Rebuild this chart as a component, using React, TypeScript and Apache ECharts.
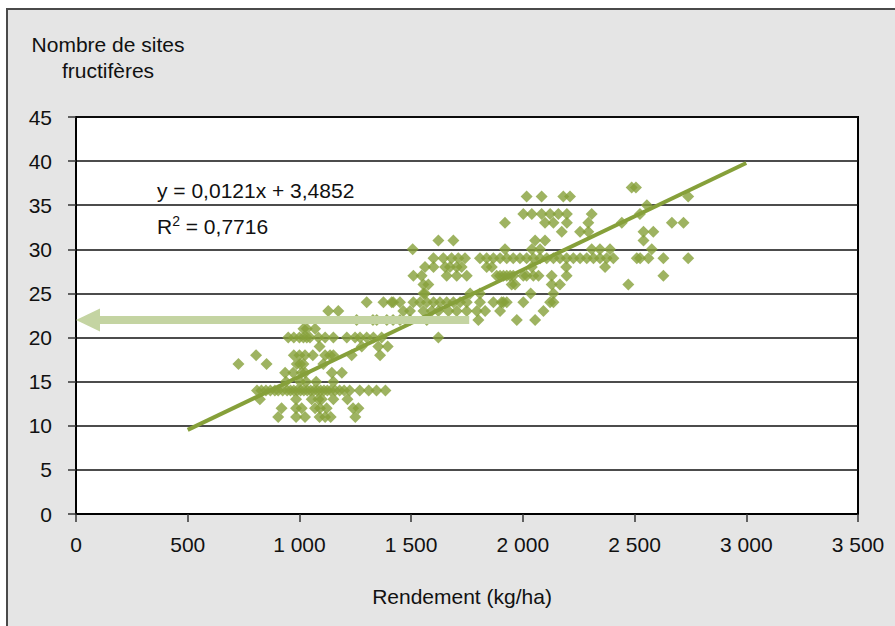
import React, { useEffect, useRef } from "react";
import * as echarts from "echarts";

// Observations grouped by number of fruiting sites (y) -> yields (kg/ha)
const yields11 = [905, 985, 1025, 1090, 1115, 1140, 1250];
const yields12 = [920, 985, 1010, 1070, 1092, 1122, 1240, 1264];
const yields13 = [823, 985, 1055, 1085, 1100, 1152, 1215];
const yields14 = [810, 830, 850, 870, 890, 905, 925, 945, 960, 975, 990, 1005, 1020, 1035, 1050, 1065, 1080, 1095, 1110, 1125, 1140, 1160, 1180, 1200, 1225, 1270, 1310, 1345, 1385];
const yields15 = [940, 1003, 1030, 1075, 1152];
const yields16 = [936, 972, 1010, 1025, 1145, 1190];
const yields17 = [727, 853, 988, 1003, 1018, 1107];
const yields18 = [806, 975, 1000, 1025, 1060, 1115, 1137, 1152, 1234, 1361];
const yields19 = [1090, 1279, 1353, 1395];
const yields20 = [950, 975, 1000, 1018, 1033, 1047, 1085, 1115, 1152, 1212, 1249, 1271, 1301, 1331, 1368, 1622];
const yields21 = [1018, 1033, 1070];
const yields22 = [1256, 1329, 1346, 1391, 1419, 1450, 1495, 1570, 1801, 1973, 2055];
const yields23 = [1129, 1174, 1465, 1495, 1555, 1592, 1622, 1667, 1704, 1749, 1794, 1831, 1898, 2092];
const yields24 = [1301, 1376, 1413, 1420, 1450, 1510, 1540, 1570, 1600, 1629, 1659, 1689, 1719, 1749, 1808, 1868, 1905, 1913, 1928, 2002, 2122, 2137];
const yields25 = [1555, 1562, 1764, 1808, 2035, 2137];
const yields26 = [1555, 1577, 1950, 1965, 2129, 2166, 2472];
const yields27 = [1510, 1547, 1659, 1704, 1749, 1883, 1898, 1913, 1928, 1943, 1957, 2002, 2017, 2047, 2070, 2129, 2196, 2629];
const yields28 = [1562, 1600, 1652, 1674, 1704, 1726, 1838, 1861, 2040, 2194, 2368];
const yields29 = [1600, 1644, 1681, 1711, 1741, 1808, 1838, 1868, 1898, 1928, 1957, 1987, 2017, 2047, 2077, 2107, 2137, 2166, 2196, 2226, 2256, 2286, 2316, 2345, 2375, 2405, 2510, 2525, 2562, 2629, 2740];
const yields30 = [1507, 1920, 2040, 2077, 2308, 2345, 2390, 2577];
const yields31 = [1622, 1689, 2055, 2099, 2540];
const yields32 = [2174, 2256, 2293, 2540, 2584];
const yields33 = [1920, 2099, 2137, 2197, 2293, 2443, 2667, 2719];
const yields34 = [2002, 2040, 2084, 2122, 2159, 2197, 2308, 2524];
const yields35 = [2555];
const yields36 = [2017, 2084, 2181, 2211, 2740];
const yields37 = [2487, 2506];

const siteLevels = [11, 12, 13, 14, 15, 16, 17, 18, 19, 20, 21, 22, 23, 24, 25, 26, 27, 28, 29, 30, 31, 32, 33, 34, 35, 36, 37];
const yieldsByLevel = [yields11, yields12, yields13, yields14, yields15, yields16, yields17, yields18, yields19, yields20, yields21, yields22, yields23, yields24, yields25, yields26, yields27, yields28, yields29, yields30, yields31, yields32, yields33, yields34, yields35, yields36, yields37];

// Linear regression shown on the chart
const trendSlope = 0.0121;
const trendIntercept = 3.4852;
const trendXRange = [500, 3000];

// Highlight arrow: from yield 1760 back to the y axis at 22 sites
const arrowLevel = 22;
const arrowFromX = 1760;
const arrowToX = 0;

const equationLabel = "y = 0,0121x + 3,4852";
const r2Value = "0,7716";
const yTitleLines = ["Nombre de sites", "fructifères"];
const xTitle = "Rendement (kg/ha)";

const FONT = "'Liberation Sans', Arial, Helvetica, sans-serif";
const GREEN = "#86a03a";
const ARROW = "#c4d4a2";

export default function App() {
  const ref = useRef<HTMLDivElement>(null);
  useEffect(() => {
    if (!ref.current) return;
    const chart = echarts.init(ref.current, undefined, { renderer: "svg" });
    const points: number[][] = [];
    siteLevels.forEach((lvl, i) => yieldsByLevel[i].forEach((x) => points.push([x, lvl])));
    const trend = trendXRange.map((x) => [x, trendSlope * x + trendIntercept]);
    const fmt = (v: number) => {
      const s = String(Math.round(v));
      return s.length > 3 ? s.slice(0, s.length - 3) + " " + s.slice(-3) : s;
    };
    chart.setOption({
      animation: false,
      backgroundColor: "transparent",
      textStyle: { fontFamily: FONT },
      grid: {
        left: 76, top: 117, right: 37, bottom: 112,
        show: true, backgroundColor: "#ffffff", borderColor: "#000", borderWidth: 2,
      },
      xAxis: {
        type: "value", min: 0, max: 3500, interval: 500,
        axisLine: { show: true, lineStyle: { color: "#000", width: 2 } },
        axisTick: { show: true, length: 8, lineStyle: { color: "#333", width: 1.5 } },
        axisLabel: { color: "#111", fontSize: 21, fontFamily: FONT, margin: 20, formatter: fmt },
        splitLine: { show: false },
      },
      yAxis: {
        type: "value", min: 0, max: 45, interval: 5,
        axisLine: { show: true, lineStyle: { color: "#000", width: 2 } },
        axisTick: { show: true, length: 8, lineStyle: { color: "#333", width: 1.5 } },
        axisLabel: { color: "#111", fontSize: 21, fontFamily: FONT, margin: 24 },
        splitLine: { show: true, lineStyle: { color: "#111", width: 1.5 } },
      },
      graphic: [
        {
          type: "text", x: 108, y: 31,
          style: { text: yTitleLines.join("\n"), font: `21px ${FONT}`, fill: "#111", textAlign: "center", textVerticalAlign: "top", lineHeight: 26 },
        },
        {
          type: "text", x: 462, y: 596,
          style: { text: xTitle, font: `21px ${FONT}`, fill: "#111", textAlign: "center", textVerticalAlign: "middle" },
        },
        {
          type: "text", x: 157, y: 190, z: 10,
          style: { text: equationLabel, font: `21px ${FONT}`, fill: "#111", textVerticalAlign: "middle" },
        },
        {
          type: "text", x: 157, y: 211, z: 10,
          style: {
            text: `{n|R}{s|2}{n| = ${r2Value}}`,
            rich: {
              n: { fontSize: 21, fontFamily: FONT, fill: "#111", lineHeight: 26, verticalAlign: "bottom" },
              s: { fontSize: 14, fontFamily: FONT, fill: "#111", lineHeight: 18, verticalAlign: "top", padding: [3, 0, 0, 0] },
            },
          },
        },
      ],
      series: [
        {
          type: "scatter", data: points, symbol: "diamond", symbolSize: 12,
          itemStyle: { color: GREEN }, z: 2,
        },
        {
          type: "line", data: trend, symbol: "none", z: 3,
          lineStyle: { color: GREEN, width: 4 },
        },
        {
          type: "custom", z: 4, clip: false,
          data: [[arrowFromX, arrowLevel, arrowToX]],
          renderItem: (params: any, api: any) => {
            const a = api.coord([api.value(0), api.value(1)]);
            const b = api.coord([api.value(2), api.value(1)]);
            const head = 24, half = 11.5, shaft = 4;
            return {
              type: "group",
              children: [
                { type: "rect", shape: { x: b[0] + head - 1, y: a[1] - shaft, width: a[0] - b[0] - head + 1, height: shaft * 2 }, style: { fill: ARROW } },
                { type: "polygon", shape: { points: [[b[0], b[1]], [b[0] + head, b[1] - half], [b[0] + head, b[1] + half]] }, style: { fill: ARROW } },
              ],
            };
          },
        },
      ],
    });
    return () => chart.dispose();
  }, []);
  return (
    <div style={{ position: "fixed", left: 0, top: 0, width: 895, height: 626, background: "#fff", overflow: "hidden" }}>
      <div style={{ position: "absolute", left: 6, top: 8, width: 1000, height: 1000, background: "#e5e5e5", border: "2px solid #4a4a4a" }} />
      <div ref={ref} style={{ position: "absolute", left: 0, top: 0, width: 895, height: 626 }} />
    </div>
  );
}
